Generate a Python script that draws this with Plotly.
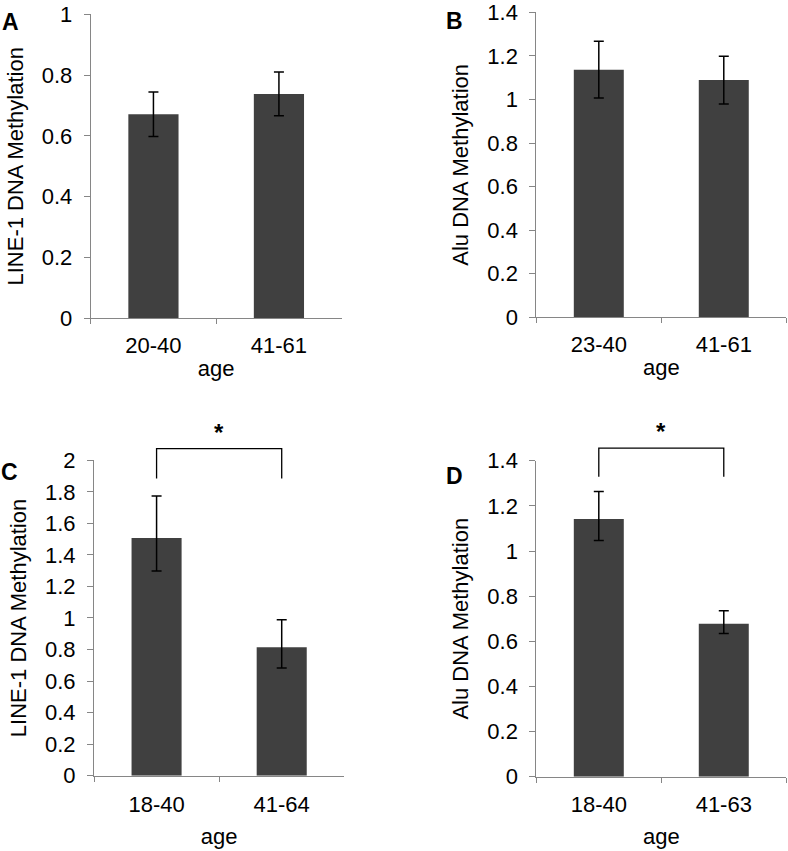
import plotly.graph_objects as go

FONT = "Liberation Sans, Arial, sans-serif"
BAR_COLOR = "#404040"
AXIS_COLOR = "#868686"

# ---- data ----
a_cats = ["20-40", "41-61"]
a_vals = [0.671, 0.738]
a_err = [0.073, 0.072]

b_cats = ["23-40", "41-61"]
b_vals = [1.137, 1.089]
b_err = [0.130, 0.110]

c_cats = ["18-40", "41-64"]
c_vals = [1.508, 0.814]
c_err_plus = [0.266, 0.175]
c_err_minus = [0.210, 0.131]

d_cats = ["18-40", "41-63"]
d_vals = [1.142, 0.678]
d_err_plus = [0.122, 0.057]
d_err_minus = [0.095, 0.043]

# significance brackets (top, leg bottom) in data units
c_bracket = [2.074, 1.884]
d_bracket = [1.456, 1.329]

panels = [
    dict(letter="A", cats=a_cats, vals=a_vals, ep=a_err, em=a_err, ymax=1.0,
         title="LINE-1 DNA Methylation", xd=[0.1151, 0.4336], yd=[0.6260, 0.9832],
         lx=10, ly=22, br=None, xstand=3, tls=7),
    dict(letter="B", cats=b_cats, vals=b_vals, ep=b_err, em=b_err, ymax=1.4,
         title="Alu DNA Methylation", xd=[0.6806, 0.9978], yd=[0.6271, 0.9855],
         lx=454, ly=21, br=None, xstand=3, tls=7),
    dict(letter="C", cats=c_cats, vals=c_vals, ep=c_err_plus, em=c_err_minus, ymax=2.0,
         title="LINE-1 DNA Methylation", xd=[0.1193, 0.4369], yd=[0.0885, 0.4591],
         lx=9, ly=472, br=c_bracket, xstand=12, tls=9),
    dict(letter="D", cats=d_cats, vals=d_vals, ep=d_err_plus, em=d_err_minus, ymax=1.4,
         title="Alu DNA Methylation", xd=[0.6806, 0.9978], yd=[0.0873, 0.4586],
         lx=454, ly=476, br=d_bracket, xstand=12, tls=8),
]

W, H = 788, 851
fig = go.Figure()
layout = dict(width=W, height=H, margin=dict(l=0, r=0, t=0, b=0, autoexpand=False),
              paper_bgcolor="white", plot_bgcolor="white", showlegend=False,
              font=dict(family=FONT, size=22, color="black"), bargap=0.6)
shapes = []
annotations = []

for i, p in enumerate(panels, start=1):
    sfx = "" if i == 1 else str(i)
    fig.add_trace(go.Bar(
        x=p["cats"], y=p["vals"], marker=dict(color=BAR_COLOR, line=dict(width=0)),
        width=0.4,
        error_y=dict(type="data", symmetric=False, array=p["ep"], arrayminus=p["em"],
                     color="black", thickness=1.5, width=5),
        xaxis="x" + sfx, yaxis="y" + sfx))
    layout["xaxis" + sfx] = dict(
        domain=p["xd"], anchor="y" + sfx, type="category", range=[-0.5, 1.5],
        automargin=False,
        showline=True, linecolor=AXIS_COLOR, linewidth=1, ticks="outside",
        tickson="boundaries", ticklen=5, tickcolor=AXIS_COLOR, showgrid=False,
        zeroline=False, tickfont=dict(size=22), ticklabelstandoff=p["tls"],
        title=dict(text="age", font=dict(size=22), standoff=p["xstand"]))
    layout["yaxis" + sfx] = dict(
        domain=p["yd"], anchor="x" + sfx, range=[0, p["ymax"]], dtick=0.2,
        automargin=False,
        showline=True, linecolor=AXIS_COLOR, linewidth=1, ticks="outside",
        ticklen=6, tickcolor=AXIS_COLOR, showgrid=False, zeroline=False,
        tickfont=dict(size=22), ticklabelstandoff=7,
        title=dict(text=p["title"], font=dict(size=22), standoff=12))
    annotations.append(dict(text="<b>%s</b>" % p["letter"], xref="paper", yref="paper",
                            x=p["lx"] / W, y=1 - p["ly"] / H, xanchor="center",
                            yanchor="middle", showarrow=False,
                            font=dict(size=23, family=FONT)))
    if p["br"]:
        top, leg = p["br"]
        xr = "x%s domain" % sfx
        yr = "y%s domain" % sfx
        xs = [(k + 0.5) / len(p["cats"]) for k in range(len(p["cats"]))]
        path = "M %f,%f L %f,%f L %f,%f L %f,%f" % (
            xs[0], leg / p["ymax"], xs[0], top / p["ymax"],
            xs[1], top / p["ymax"], xs[1], leg / p["ymax"])
        shapes.append(dict(type="path", xref=xr, yref=yr, path=path,
                           line=dict(color="black", width=1.3)))
        annotations.append(dict(text="<b>*</b>", xref=xr, yref=yr,
                                x=sum(xs) / 2, y=top / p["ymax"], xanchor="center",
                                yanchor="bottom", showarrow=False, yshift=1,
                                font=dict(size=24, family=FONT)))

layout["shapes"] = shapes
layout["annotations"] = annotations
fig.update_layout(**layout)
fig.write_html("out.html", config={"displayModeBar": False, "staticPlot": True},
               post_script="document.body.style.margin='0';document.body.style.padding='0';")
